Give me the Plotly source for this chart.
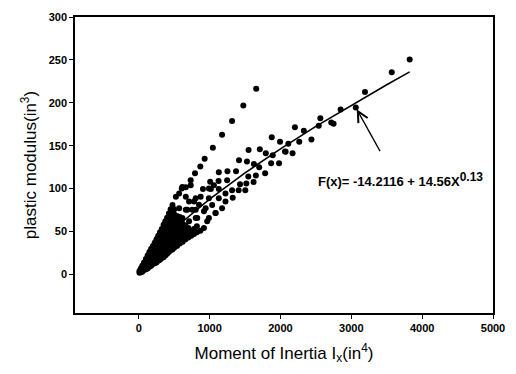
import plotly.graph_objects as go

# ---- data ----
# upper (steep) branch of sections
upper_x = [476, 524, 570, 607, 664, 733, 794, 869, 930, 1046, 1176, 1317, 1476, 1658]
upper_y = [81, 90.6, 94.4, 100, 101.7, 109.7, 118, 125.7, 134.8, 147.7, 162.9, 178.9, 196.8, 216.3]

# main (lower) branch, scattered heavier sections
main_x = [3824, 3571, 3193, 3063, 2849, 2717, 2563, 2540, 2750, 2437, 2330, 2204, 2265, 2111,
          2064, 2171, 1994, 1877, 1891, 1868, 1980, 1793, 1709, 1550, 2073, 1415, 1527, 1625,
          1700, 1784, 1252, 1130, 1373, 1653, 1546, 1126, 1008, 1247, 1429, 1518, 1620, 906,
          1018, 1130, 1317, 1410, 1504, 1224, 1130, 1224, 1326, 1176, 1084, 990, 944, 850,
          804, 710, 756, 664, 570, 616, 804, 710, 524, 616, 734, 990, 1060, 874, 990, 1036,
          780, 664, 686, 804, 920, 1084, 826, 966]
main_y = [250.5, 235.7, 212.5, 194.5, 192.3, 177, 182, 173.2, 175.5, 157.2, 167.5, 171.4, 154.6, 152.3,
          143.1, 141.2, 154.6, 159.9, 138.9, 129.4, 129.4, 141.2, 145.8, 145.1, 142.8, 132.9, 131.7, 128.6,
          124.9, 118, 120.3, 119.1, 120.3, 115.4, 114.2, 108.9, 108.1, 109.7, 105.1, 105.8, 107.7, 99.4,
          99.4, 99.4, 98.2, 98.2, 98.2, 94.4, 88.7, 84.9, 89.4, 77.2, 71.5, 65.8, 77.2, 81.1,
          88.7, 84.9, 75.4, 75.4, 77.2, 65.8, 65.8, 62, 65.8, 102, 104, 100, 104, 90.6, 88.7, 81,
          84.9, 90.6, 75.4, 75.4, 73.5, 71.5, 65.8, 62]

# dense cluster of light sections: Ix column -> Zx values
cluster_cols = {
    10: [2, 4],
    30: [2.5, 5, 7],
    50: [3, 6, 8, 10],
    75: [5, 8, 11, 14],
    100: [6, 9, 12, 15, 18],
    125: [7, 10, 13, 16, 19, 22],
    150: [9, 12, 15, 18, 21, 24, 26],
    175: [10, 13, 16, 19, 22, 25, 28, 30],
    200: [12, 15, 18, 21, 24, 27, 30, 33],
    225: [13, 16, 19, 22, 25, 28, 31, 34, 37],
    250: [14, 17, 20, 23, 26, 29, 32, 35, 38, 41],
    275: [16, 19, 22, 25, 28, 31, 34, 37, 40, 43, 45],
    300: [17, 20, 23, 26, 29, 32, 35, 38, 41, 44, 47, 49],
    325: [19, 22, 25, 28, 31, 34, 37, 40, 43, 46, 49, 53],
    350: [20, 23, 26, 29, 32, 35, 38, 41, 44, 47, 50, 54, 58],
    375: [22, 25, 28, 31, 34, 37, 40, 43, 46, 50, 54, 58, 62],
    400: [24, 27, 30, 33, 36, 39, 42, 45, 48, 52, 56, 61, 66],
    425: [26, 29, 32, 35, 38, 41, 44, 48, 52, 56, 61, 66, 71],
    450: [28, 31, 34, 37, 40, 44, 48, 52, 57, 62, 67, 72, 76],
    475: [29, 32, 35, 39, 43, 47, 51, 56, 61, 66, 71],
    500: [31, 34, 38, 42, 46, 50, 55, 60, 65, 70, 76],
    540: [33, 37, 41, 46, 51, 56, 62, 68],
    580: [36, 40, 45, 50, 55, 61, 67],
    620: [38, 43, 48, 53, 59],
    660: [41, 46, 51, 57],
    700: [43, 48, 54],
    740: [45, 50],
    780: [47, 53],
    820: [49, 56],
    870: [51],
    920: [54],
}

# fitted curve
fit_x = [0, 10, 50, 100, 200, 400, 600, 800, 1000, 1500, 2000, 2500, 3000, 3500, 3824]
fit_y = [0, 2.9, 9.6, 16.0, 26.7, 44.6, 60.2, 74.4, 87.7, 118.3, 146.3, 172.5, 197.3, 221.1, 236.0]

x_ticks = [0, 1000, 2000, 3000, 4000, 5000]
y_ticks = [0, 50, 100, 150, 200, 250, 300]

eq_main = "F(x)= -14.2116 + 14.56X"
eq_exp = "0.13"

# ---- build ----
cx, cy = [], []
for x, ys in cluster_cols.items():
    for y in ys:
        cx.append(x)
        cy.append(y)

all_x = cx + upper_x + main_x
all_y = cy + upper_y + main_y

fig = go.Figure()
fig.add_trace(go.Scatter(x=all_x, y=all_y, mode="markers",
                         marker=dict(color="black", size=6, line=dict(width=0)),
                         showlegend=False, hoverinfo="skip"))
fig.add_trace(go.Scatter(x=fit_x, y=fit_y, mode="lines",
                         line=dict(color="black", width=1.6),
                         showlegend=False, hoverinfo="skip"))

FONT = "Liberation Sans, Arial, sans-serif"
tgt = main_x.index(3063)
fig.add_annotation(x=main_x[tgt], y=main_y[tgt], ax=3417, ay=142, axref="x", ayref="y",
                   xref="x", yref="y", text="", showarrow=True, arrowhead=5,
                   arrowsize=1.6, arrowwidth=1.3, arrowcolor="black", standoff=2)
fig.add_annotation(x=2507, y=110.6, xref="x", yref="y",
                   text=eq_main + "<sup><span style='font-size:12px'>" + eq_exp + "</span></sup>",
                   showarrow=False, xanchor="left", yanchor="middle",
                   font=dict(family=FONT, size=13, color="black", weight="bold"))

axis_common = dict(showline=True, linecolor="black", linewidth=1.5, mirror=True,
                   ticks="outside", ticklen=4, tickwidth=1.2, tickcolor="black",
                   showgrid=False, zeroline=False,
                   tickfont=dict(family=FONT, size=11, color="black", weight="bold"))

fig.update_xaxes(range=[-900, 5000], tickvals=x_ticks, ticktext=[str(v) for v in x_ticks],
                 title=dict(text="Moment of Inertia I<sub>x</sub>(in<sup>4</sup>)",
                            font=dict(family=FONT, size=17, color="black"), standoff=14),
                 **axis_common)
fig.update_yaxes(range=[-45, 300], tickvals=y_ticks, ticktext=[str(v) for v in y_ticks],
                 title=dict(text="plastic modulus(in<sup>3</sup>)",
                            font=dict(family=FONT, size=17, color="black"), standoff=8),
                 **axis_common)

fig.update_layout(width=516, height=374, margin=dict(l=75, r=19, t=11, b=61),
                  paper_bgcolor="white", plot_bgcolor="white")

fig.write_html("out.html")
